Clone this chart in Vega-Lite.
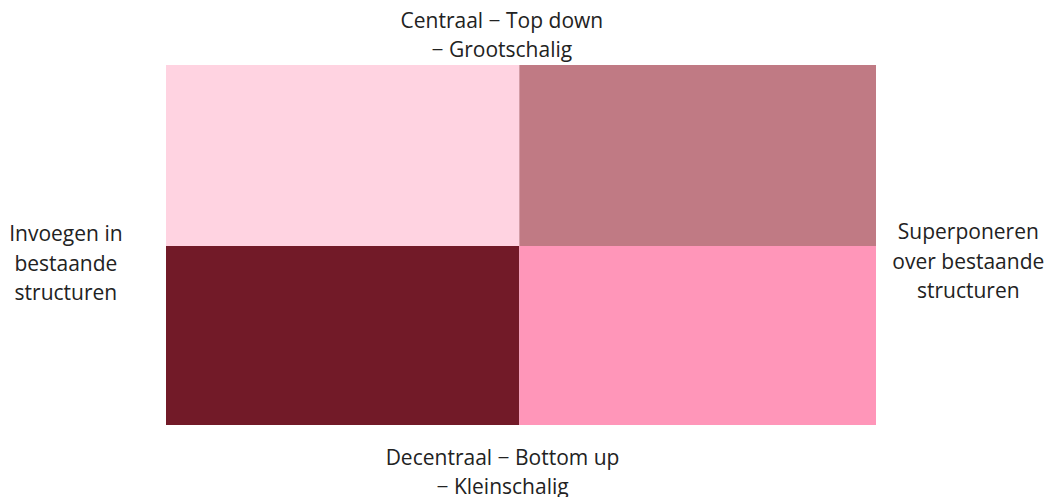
{
  "$schema": "https://vega.github.io/schema/vega-lite/v6.json",
  "width": 710,
  "height": 360,
  "autosize": {"type": "none"},
  "padding": {"left": 166, "top": 65, "right": 169, "bottom": 72},
  "background": "white",
  "config": {"view": {"stroke": null}},
  "datasets": {
    "quadrants": [
      {"kwadrant": "Centraal – Invoegen", "xlo": 0, "xhi": 0.4976, "ylo": 0.497, "yhi": 1},
      {"kwadrant": "Centraal – Superponeren", "xlo": 0.4976, "xhi": 1, "ylo": 0.497, "yhi": 1},
      {"kwadrant": "Decentraal – Invoegen", "xlo": 0, "xhi": 0.4976, "ylo": 0, "yhi": 0.497},
      {"kwadrant": "Decentraal – Superponeren", "xlo": 0.4976, "xhi": 1, "ylo": 0, "yhi": 0.497}
    ],
    "labels": [
      {"label": "Centraal − Top down\n − Grootschalig", "x": 0.473, "y": 1.12},
      {"label": "Decentraal − Bottom up\n − Kleinschalig", "x": 0.474, "y": -0.094},
      {"label": "Invoegen in\nbestaande\nstructuren", "x": -0.141, "y": 0.527},
      {"label": "Superponeren\nover bestaande\nstructuren", "x": 1.13, "y": 0.532}
    ]
  },
  "layer": [
    {
      "data": {"name": "quadrants"},
      "mark": {"type": "rect"},
      "encoding": {
        "x": {"field": "xlo", "type": "quantitative", "scale": {"domain": [0, 1], "nice": false, "zero": false}, "axis": null},
        "x2": {"field": "xhi"},
        "y": {"field": "ylo", "type": "quantitative", "scale": {"domain": [0, 1], "nice": false, "zero": false}, "axis": null},
        "y2": {"field": "yhi"},
        "color": {
          "field": "kwadrant",
          "type": "nominal",
          "scale": {
            "domain": ["Centraal – Invoegen", "Centraal – Superponeren", "Decentraal – Invoegen", "Decentraal – Superponeren"],
            "range": ["#FFD3E1", "#C07A84", "#721A28", "#FF96B9"]
          },
          "legend": null
        }
      }
    },
    {
      "data": {"name": "labels"},
      "mark": {"type": "text", "font": "Open Sans", "fontSize": 21, "lineHeight": 29.5, "lineBreak": "\n", "align": "center", "baseline": "middle", "color": "#222222"},
      "encoding": {
        "x": {"field": "x", "type": "quantitative"},
        "y": {"field": "y", "type": "quantitative"},
        "text": {"field": "label"}
      }
    }
  ]
}
